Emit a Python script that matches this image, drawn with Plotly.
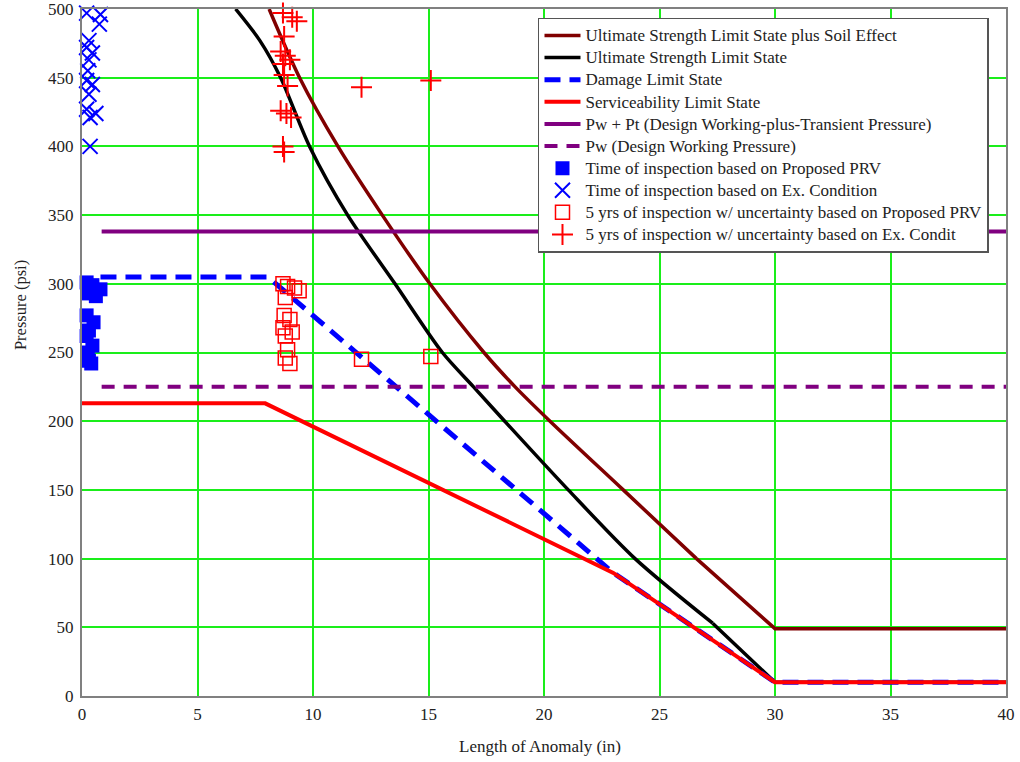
import plotly.graph_objects as go

# Limit-state curves: pressure (psi) versus anomaly length (in)
# curved part of each ultimate-strength curve, followed by its straight tail
soil_x = [8.1, 9.42, 11.08, 13.0, 15.06, 17.4, 18.75, 20.26, 23.43, 26.6]
soil_y = [500, 450, 400, 350, 300, 250, 225, 200, 150, 100]
soil_tail_x = [26.6, 30, 40]
soil_tail_y = [100, 49, 49]

ult_x = [6.65, 7.7, 8.6, 9.85, 11.5, 13.55, 15.6, 16.95, 18.3, 21.05, 23.94, 27.3]
ult_y = [500, 477, 450, 400, 350, 300, 250, 225, 200, 150, 100, 53]
ult_tail_x = [27.3, 30, 40]
ult_tail_y = [53, 10, 10]

dmg_x = [0.8, 8.05, 23.0, 30, 40]
dmg_y = [305, 305, 89.6, 10, 10]

svc_x = [0, 7.93, 23.0, 30, 40]
svc_y = [213, 213, 89.6, 10, 10]

pwpt_x = [0.85, 40]
pwpt_y = [338, 338]

pw_x = [0.85, 40]
pw_y = [225, 225]

# Inspection points
prv_x = [0.2, 0.45, 0.8, 0.25, 0.6, 0.2, 0.5, 0.3, 0.2, 0.45, 0.25, 0.3, 0.4]
prv_y = [301, 299, 296, 293, 291, 277, 272, 266, 262, 255, 250, 244, 242]

exc_x = [0.2, 0.8, 0.75, 0.3, 0.2, 0.45, 0.3, 0.25, 0.2, 0.45, 0.3, 0.2, 0.6, 0.35, 0.35]
exc_y = [497, 496, 489, 477, 472, 468, 463, 455, 448, 445, 438, 427, 424, 421, 400]

prv5_x = [8.7, 8.9, 9.2, 9.4, 8.8, 8.75, 9.0, 8.7, 9.1, 8.8, 8.9, 8.8, 9.0, 12.1, 15.1]
prv5_y = [300, 298, 297, 295, 290, 277, 274, 268, 265, 262, 252, 246, 242, 245, 247]

exc5_x = [8.7, 9.1, 9.3, 8.75, 8.6, 8.8, 9.0, 8.7, 8.75, 8.9, 8.6, 8.85, 9.05, 8.7, 8.75, 12.1, 15.1]
exc5_y = [497, 494, 491, 480, 469, 466, 463, 460, 452, 444, 426, 424, 421, 400, 396, 443, 448]

x_ticks = [0, 5, 10, 15, 20, 25, 30, 35, 40]
y_ticks = [0, 50, 100, 150, 200, 250, 300, 350, 400, 450, 500]

SERIF = "Liberation Serif, Times New Roman, serif"
TXT = "#222222"
LEG_TEXT = 17      # size of the legend labels
LEG_ROW = 14.7     # font size used by the legend for row spacing


def leg(name):
    return f'<span style="font-size:{LEG_TEXT}px">{name}</span>'


fig = go.Figure()


def add_line(x, y, name, color, width, dash="solid", shape="linear", legend=True):
    fig.add_trace(go.Scatter(x=x, y=y, mode="lines", name=leg(name),
                             line=dict(color=color, width=width, dash=dash,
                                       shape=shape, smoothing=0.8),
                             legendgroup=name, showlegend=legend))


def add_pts(x, y, name, symbol, color, size, lw, fill=None):
    fig.add_trace(go.Scatter(x=x, y=y, mode="markers", name=leg(name), cliponaxis=False,
                             legendgroup=name,
                             marker=dict(symbol=symbol, size=size,
                                         color=fill if fill else color,
                                         line=dict(color=color, width=lw))))


n_soil = "Ultimate Strength Limit State plus Soil Effect"
n_ult = "Ultimate Strength Limit State"
add_line(soil_x, soil_y, n_soil, "#800000", 3.5, shape="spline")
add_line(soil_tail_x, soil_tail_y, n_soil, "#800000", 3.5, legend=False)
add_line(ult_x, ult_y, n_ult, "#000000", 3.5, shape="spline")
add_line(ult_tail_x, ult_tail_y, n_ult, "#000000", 3.5, legend=False)
add_line(dmg_x, dmg_y, "Damage Limit State", "#0000ff", 5, "16px,9px")
add_line(svc_x, svc_y, "Serviceability Limit State", "#ff0000", 4)
add_line(pwpt_x, pwpt_y, "Pw + Pt (Design Working-plus-Transient Pressure)", "#800080", 4)
add_line(pw_x, pw_y, "Pw (Design Working Pressure)", "#800080", 4, "13px,9px")

add_pts(prv_x, prv_y, "Time of inspection based on Proposed PRV", "square", "#0000ff", 14, 0, fill="#0000ff")
add_pts(exc_x, exc_y, "Time of inspection based on Ex. Condition", "x-thin-open", "#0000ff", 15, 2)
add_pts(prv5_x, prv5_y, "5 yrs of inspection w/ uncertainty based on Proposed PRV", "square-open", "#ff0000", 14, 1.5)
add_pts(exc5_x, exc5_y, "5 yrs of inspection w/ uncertainty based on Ex. Condit", "cross-thin-open", "#ff0000", 15, 2)

axis_common = dict(showgrid=True, gridcolor="#1aee1a", gridwidth=1.5,
                   showline=True, linecolor="#808080", linewidth=2, mirror=True,
                   zeroline=False, ticks="", automargin=False,
                   ticklabeloverflow="allow",
                   tickfont=dict(family=SERIF, size=17, color=TXT))

fig.update_xaxes(range=[0, 40], tickvals=x_ticks, ticklabelstandoff=2, **axis_common)
fig.update_yaxes(range=[0, 500], tickvals=y_ticks, ticklabelstandoff=3, **axis_common)

fig.update_layout(
    width=1020, height=762,
    margin=dict(l=82, r=14, t=9, b=66),
    paper_bgcolor="white", plot_bgcolor="white",
    showlegend=True,
    legend=dict(x=0.4935, y=0.987, xanchor="left", yanchor="top",
                bgcolor="white", bordercolor="#555555", borderwidth=1.5,
                font=dict(family=SERIF, size=LEG_ROW, color=TXT),
                itemwidth=36, traceorder="normal", tracegroupgap=0),
    annotations=[
        dict(text="Pressure (psi)", xref="paper", yref="paper", x=-0.0671, y=0.569,
             xanchor="center", yanchor="middle",
             showarrow=False, textangle=-90, font=dict(family=SERIF, size=16.5, color=TXT)),
        dict(text="Length of Anomaly (in)", xref="paper", yref="paper", x=0.4957, y=-0.0728,
             xanchor="center", yanchor="middle",
             showarrow=False, font=dict(family=SERIF, size=17, color=TXT)),
    ],
)

fig.write_html("out.html")
